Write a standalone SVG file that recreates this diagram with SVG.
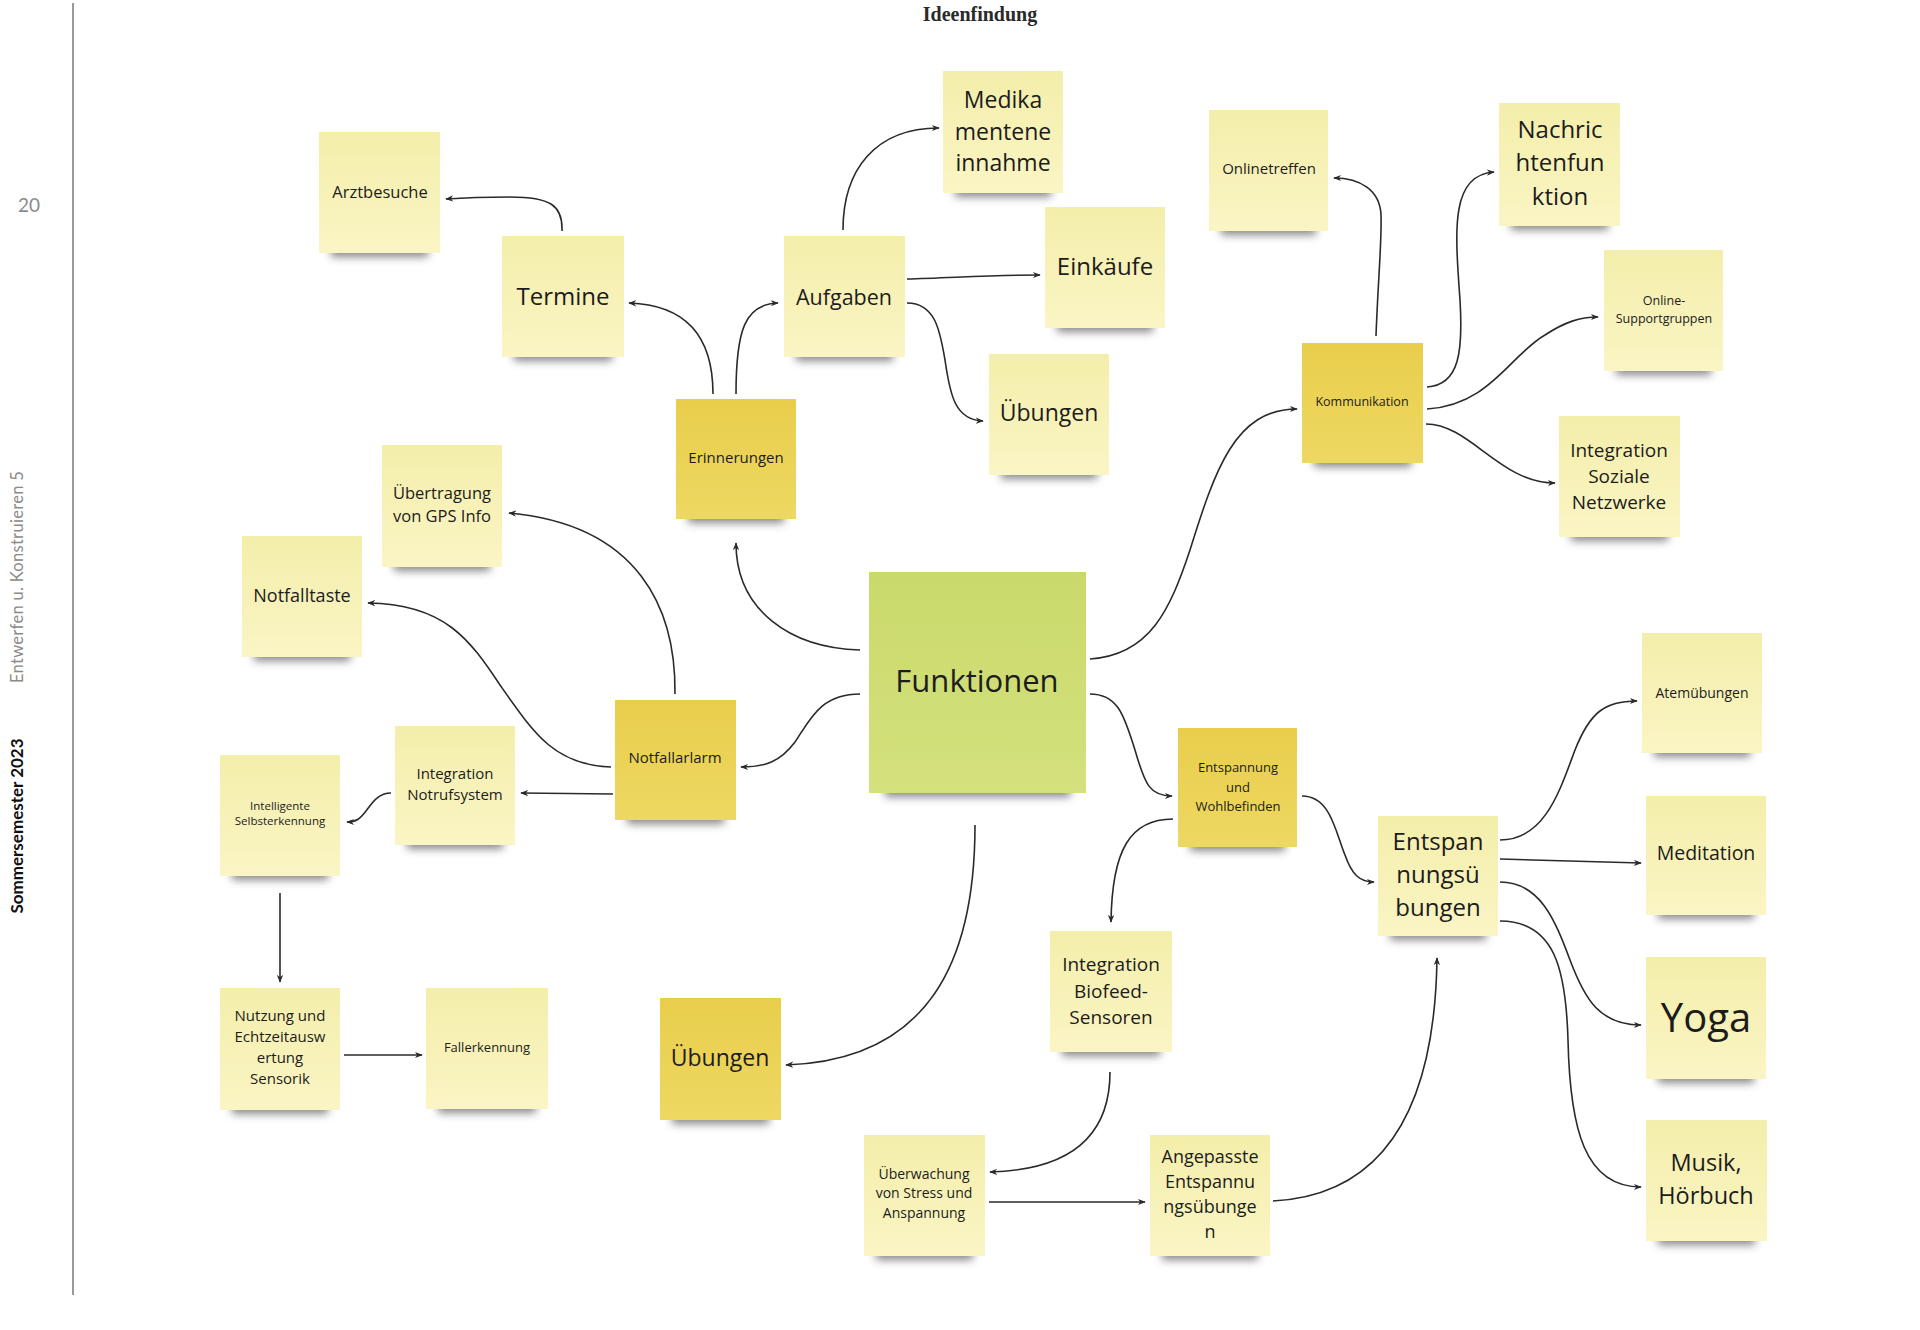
<svg xmlns="http://www.w3.org/2000/svg" width="1920" height="1330" viewBox="0 0 1920 1330">
<defs>
<linearGradient id="gPale" x1="0" y1="0" x2="0" y2="1"><stop offset="0" stop-color="#f4eeab"/><stop offset="1" stop-color="#faf5c4"/></linearGradient>
<linearGradient id="gDark" x1="0" y1="0" x2="0" y2="1"><stop offset="0" stop-color="#e9ce4c"/><stop offset="1" stop-color="#eed862"/></linearGradient>
<linearGradient id="gGreen" x1="0" y1="0" x2="0" y2="1"><stop offset="0" stop-color="#cad96b"/><stop offset="1" stop-color="#d4e17d"/></linearGradient>
<filter id="blur" x="-20%" y="-100%" width="140%" height="300%"><feGaussianBlur stdDeviation="4"/></filter>
<marker id="ah" viewBox="0 0 10 10" refX="9" refY="5" markerWidth="8" markerHeight="8" markerUnits="userSpaceOnUse" orient="auto"><path d="M0,1 L10,5 L0,9 L3,5 z" fill="#2a2a2a"/></marker>
</defs>
<style>
.sh{fill:#3a3a3a;opacity:0.6;filter:url(#blur)}
.pale{fill:url(#gPale)}
.dark{fill:url(#gDark)}
.green{fill:url(#gGreen)}
text{font-family:"Open Sans","Noto Sans",sans-serif;fill:#1c1c1c;text-anchor:middle}
.c{fill:none;stroke:#2a2a2a;stroke-width:1.6;marker-end:url(#ah)}
</style>
<rect width="1920" height="1330" fill="#ffffff"/>

<g id="page">
<line x1="73" y1="3" x2="73" y2="1295" stroke="#9a9a9a" stroke-width="2"/>
<text x="29" y="212" style="font-family:Lato,'Open Sans',sans-serif;font-size:19px;fill:#8a8a8a;font-weight:400">20</text>
<text transform="translate(23,577) rotate(-90)" style="font-family:Lato,'Open Sans',sans-serif;font-size:16.5px;fill:#8a8a8a;font-weight:400;letter-spacing:0.3px">Entwerfen u. Konstruieren 5</text>
<text transform="translate(23,826) rotate(-90)" style="font-family:Lato,'Open Sans',sans-serif;font-size:17px;fill:#111;font-weight:700">Sommersemester 2023</text>
<text x="980" y="21" style="font-family:'Liberation Serif','DejaVu Serif',serif;font-size:20px;font-weight:700;fill:#2a2a2a">Ideenfindung</text>
</g>

<g id="connectors">
<path class="c" d="M562,231 C563,205 550,197 510,197 C480,197 460,198 446,199"/>
<path class="c" d="M713,394 C713,340 690,305 629,303"/>
<path class="c" d="M736,394 C736,330 745,304 778,303"/>
<path class="c" d="M843,230 C843,170 875,128 939,128"/>
<path class="c" d="M907,279 C950,278 990,275 1040,275"/>
<path class="c" d="M907,303 C935,303 940,330 945,360 C950,395 955,420 983,421"/>
<path class="c" d="M860,650 C790,648 736,610 736,543"/>
<path class="c" d="M860,694 C820,694 810,720 795,742 C780,762 765,767 741,767"/>
<path class="c" d="M675,694 C676,610 640,525 509,513"/>
<path class="c" d="M611,767 C555,765 535,735 500,685 C470,640 445,604 368,603"/>
<path class="c" d="M613,794 L521,793"/>
<path class="c" d="M391,793 C378,793 372,803 366,811 C360,819 356,822 347,822"/>
<path class="c" d="M280,893 L280,982"/>
<path class="c" d="M344,1055 L422,1055"/>
<path class="c" d="M1090,659 C1150,655 1170,610 1190,550 C1215,470 1235,409 1297,409"/>
<path class="c" d="M1376,336 C1378,280 1382,240 1381,215 C1380,190 1360,178 1334,178"/>
<path class="c" d="M1427,387 C1460,385 1463,350 1460,300 C1455,230 1450,175 1494,172"/>
<path class="c" d="M1427,409 C1490,405 1510,355 1545,335 C1565,322 1580,317 1598,317"/>
<path class="c" d="M1426,424 C1470,424 1500,483 1555,483"/>
<path class="c" d="M1090,694 C1120,694 1125,720 1135,750 C1145,785 1150,796 1172,796"/>
<path class="c" d="M975,825 C975,960 930,1060 786,1065"/>
<path class="c" d="M1173,819 C1130,819 1112,850 1111,922"/>
<path class="c" d="M1110,1072 C1110,1140 1065,1170 990,1172"/>
<path class="c" d="M989,1202 L1145,1202"/>
<path class="c" d="M1273,1201 C1390,1195 1435,1100 1437,958"/>
<path class="c" d="M1302,796 C1330,796 1335,830 1345,855 C1352,875 1360,882 1374,882"/>
<path class="c" d="M1500,840 C1545,840 1560,790 1575,750 C1590,712 1605,701 1637,701"/>
<path class="c" d="M1500,859 L1641,863"/>
<path class="c" d="M1500,882 C1540,882 1555,920 1570,960 C1585,1000 1600,1025 1641,1025"/>
<path class="c" d="M1500,921 C1555,921 1566,970 1568,1040 C1570,1130 1585,1187 1641,1187"/>
</g>

<g id="n-arztbesuche"><rect class="sh" x="331" y="243" width="97" height="14"/><rect class="pale" x="319" y="132" width="121" height="121"/><text x="380" y="198" font-size="16.5">Arztbesuche</text></g>
<g id="n-termine"><rect class="sh" x="514" y="347" width="98" height="14"/><rect class="pale" x="502" y="236" width="122" height="121"/><text x="563" y="305" font-size="24">Termine</text></g>
<g id="n-aufgaben"><rect class="sh" x="796" y="347" width="97" height="14"/><rect class="pale" x="784" y="236" width="121" height="121"/><text x="844" y="305" font-size="21.5">Aufgaben</text></g>
<g id="n-medikamente"><rect class="sh" x="955" y="183" width="96" height="14"/><rect class="pale" x="943" y="71" width="120" height="122"/><text x="1003" y="108" font-size="23">Medika</text><text x="1003" y="140" font-size="23">mentene</text><text x="1003" y="171" font-size="23">innahme</text></g>
<g id="n-einkaeufe"><rect class="sh" x="1057" y="318" width="96" height="14"/><rect class="pale" x="1045" y="207" width="120" height="121"/><text x="1105" y="275" font-size="24">Einkäufe</text></g>
<g id="n-uebungen1"><rect class="sh" x="1001" y="465" width="96" height="14"/><rect class="pale" x="989" y="354" width="120" height="121"/><text x="1049" y="421" font-size="23">Übungen</text></g>
<g id="n-erinnerungen"><rect class="sh" x="688" y="509" width="96" height="14"/><rect class="dark" x="676" y="399" width="120" height="120"/><text x="736" y="463" font-size="15">Erinnerungen</text></g>
<g id="n-onlinetreffen"><rect class="sh" x="1221" y="221" width="95" height="14"/><rect class="pale" x="1209" y="110" width="119" height="121"/><text x="1269" y="174" font-size="15">Onlinetreffen</text></g>
<g id="n-nachricht"><rect class="sh" x="1511" y="216" width="97" height="14"/><rect class="pale" x="1499" y="103" width="121" height="123"/><text x="1560" y="138" font-size="24">Nachric</text><text x="1560" y="171" font-size="24">htenfun</text><text x="1560" y="205" font-size="24">ktion</text></g>
<g id="n-supportgruppen"><rect class="sh" x="1616" y="361" width="95" height="14"/><rect class="pale" x="1604" y="250" width="119" height="121"/><text x="1664" y="305" font-size="12.5">Online-</text><text x="1664" y="323" font-size="12.5">Supportgruppen</text></g>
<g id="n-kommunikation"><rect class="sh" x="1314" y="453" width="97" height="14"/><rect class="dark" x="1302" y="343" width="121" height="120"/><text x="1362" y="406" font-size="12.5">Kommunikation</text></g>
<g id="n-sozialenetzwerke"><rect class="sh" x="1571" y="527" width="97" height="14"/><rect class="pale" x="1559" y="416" width="121" height="121"/><text x="1619" y="457" font-size="19">Integration</text><text x="1619" y="483" font-size="19">Soziale</text><text x="1619" y="509" font-size="19">Netzwerke</text></g>
<g id="n-gps"><rect class="sh" x="394" y="557" width="96" height="14"/><rect class="pale" x="382" y="445" width="120" height="122"/><text x="442" y="499" font-size="16.5">Übertragung</text><text x="442" y="522" font-size="16.5">von GPS Info</text></g>
<g id="n-notfalltaste"><rect class="sh" x="254" y="647" width="96" height="14"/><rect class="pale" x="242" y="536" width="120" height="121"/><text x="302" y="602" font-size="18">Notfalltaste</text></g>
<g id="n-funktionen"><rect class="sh" x="885" y="781" width="185" height="16"/><rect class="green" x="869" y="572" width="217" height="221"/><text x="977" y="692" font-size="31">Funktionen</text></g>
<g id="n-notfallarlarm"><rect class="sh" x="627" y="810" width="97" height="14"/><rect class="dark" x="615" y="700" width="121" height="120"/><text x="675" y="763" font-size="15">Notfallarlarm</text></g>
<g id="n-notrufsystem"><rect class="sh" x="407" y="835" width="96" height="14"/><rect class="pale" x="395" y="726" width="120" height="119"/><text x="455" y="779" font-size="15">Integration</text><text x="455" y="800" font-size="15">Notrufsystem</text></g>
<g id="n-selbsterkennung"><rect class="sh" x="232" y="866" width="96" height="14"/><rect class="pale" x="220" y="755" width="120" height="121"/><text x="280" y="810" font-size="11.5">Intelligente</text><text x="280" y="825" font-size="11.5">Selbsterkennung</text></g>
<g id="n-wohlbefinden"><rect class="sh" x="1190" y="837" width="95" height="14"/><rect class="dark" x="1178" y="728" width="119" height="119"/><text x="1238" y="772" font-size="13">Entspannung</text><text x="1238" y="792" font-size="13">und</text><text x="1238" y="811" font-size="13">Wohlbefinden</text></g>
<g id="n-entspannungsuebungen"><rect class="sh" x="1390" y="926" width="96" height="14"/><rect class="pale" x="1378" y="816" width="120" height="120"/><text x="1438" y="850" font-size="24">Entspan</text><text x="1438" y="883" font-size="24">nungsü</text><text x="1438" y="916" font-size="24">bungen</text></g>
<g id="n-atemuebungen"><rect class="sh" x="1654" y="743" width="96" height="14"/><rect class="pale" x="1642" y="633" width="120" height="120"/><text x="1702" y="698" font-size="14">Atemübungen</text></g>
<g id="n-meditation"><rect class="sh" x="1658" y="905" width="96" height="14"/><rect class="pale" x="1646" y="796" width="120" height="119"/><text x="1706" y="860" font-size="19.5">Meditation</text></g>
<g id="n-yoga"><rect class="sh" x="1658" y="1069" width="96" height="14"/><rect class="pale" x="1646" y="957" width="120" height="122"/><text x="1706" y="1032" font-size="40">Yoga</text></g>
<g id="n-musik"><rect class="sh" x="1658" y="1231" width="97" height="14"/><rect class="pale" x="1646" y="1120" width="121" height="121"/><text x="1706" y="1171" font-size="23.5">Musik,</text><text x="1706" y="1204" font-size="23.5">Hörbuch</text></g>
<g id="n-uebungen2"><rect class="sh" x="672" y="1110" width="97" height="14"/><rect class="dark" x="660" y="998" width="121" height="122"/><text x="720" y="1066" font-size="23">Übungen</text></g>
<g id="n-biofeed"><rect class="sh" x="1062" y="1042" width="98" height="14"/><rect class="pale" x="1050" y="931" width="122" height="121"/><text x="1111" y="971" font-size="19">Integration</text><text x="1111" y="998" font-size="19">Biofeed-</text><text x="1111" y="1024" font-size="19">Sensoren</text></g>
<g id="n-ueberwachung"><rect class="sh" x="876" y="1246" width="97" height="14"/><rect class="pale" x="864" y="1135" width="121" height="121"/><text x="924" y="1179" font-size="14">Überwachung</text><text x="924" y="1198" font-size="14">von Stress und</text><text x="924" y="1218" font-size="14">Anspannung</text></g>
<g id="n-angepasste"><rect class="sh" x="1162" y="1246" width="96" height="14"/><rect class="pale" x="1150" y="1135" width="120" height="121"/><text x="1210" y="1163" font-size="18">Angepasste</text><text x="1210" y="1188" font-size="18">Entspannu</text><text x="1210" y="1213" font-size="18">ngsübunge</text><text x="1210" y="1238" font-size="18">n</text></g>
<g id="n-nutzung"><rect class="sh" x="232" y="1100" width="96" height="14"/><rect class="pale" x="220" y="988" width="120" height="122"/><text x="280" y="1021" font-size="15">Nutzung und</text><text x="280" y="1042" font-size="15">Echtzeitausw</text><text x="280" y="1063" font-size="15">ertung</text><text x="280" y="1084" font-size="15">Sensorik</text></g>
<g id="n-fallerkennung"><rect class="sh" x="438" y="1099" width="98" height="14"/><rect class="pale" x="426" y="988" width="122" height="121"/><text x="487" y="1052" font-size="13">Fallerkennung</text></g>
</svg>
